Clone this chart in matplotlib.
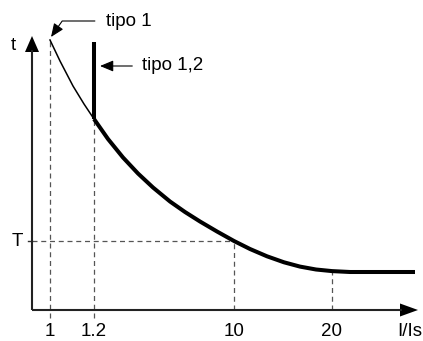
import matplotlib.pyplot as plt

# schematic trip curve, x in arbitrary axis units, t in arbitrary time units
curve_x = [18, 28, 41, 52, 62, 76, 91, 106, 121, 138, 153, 168, 185, 202,
           218, 235, 252, 268, 284, 300, 318, 383]
curve_t = [270, 249, 224, 206, 191, 171, 152.5, 136.5, 122.5, 108.5, 98,
           88.5, 78.5, 69, 61, 53.7, 47.7, 43.4, 40.5, 38.9, 38, 38]

tick_x = [18, 62, 202, 300]
tick_labels = ['1', '1.2', '10', '20']
T_level = 69
bar_top = 268          # top of the vertical "tipo 1,2" segment
x_end, t_end = 386, 274

plt.rcParams['font.family'] = ['Liberation Sans', 'DejaVu Sans']
fig = plt.figure(figsize=(4.23, 3.41), dpi=100)
ax = fig.add_axes([0, 0, 1, 1])
ax.set_xlim(-32, 391)
ax.set_ylim(-31, 310)
ax.axis('off')

dash = dict(color='#555555', lw=0.9, dashes=(4, 3))

# dashed guides
ax.plot([tick_x[0], tick_x[0]], [-8, curve_t[0]], **dash)
ax.plot([tick_x[1], tick_x[1]], [-8, curve_t[4]], **dash)
ax.plot([tick_x[2], tick_x[2]], [0, T_level], **dash)
ax.plot([tick_x[3], tick_x[3]], [0, curve_t[19]], **dash)
ax.plot([0, tick_x[2]], [T_level, T_level], **dash)
ax.plot([-4, 0], [T_level, T_level], color='#333333', lw=1)

# axes with arrow heads
ax.plot([0, 0], [0, t_end - 14], color='#222222', lw=1.5, solid_capstyle='butt')
ax.plot([0, x_end - 16], [0, 0], color='#222222', lw=1.5, solid_capstyle='butt')
ax.fill([-7, 7, 0], [t_end - 16, t_end - 16, t_end], color='black', lw=0)
ax.fill([x_end - 18, x_end - 18, x_end], [-6.5, 6.5, 0], color='black', lw=0)

# curve: thin part (tipo 1) then thick part
ax.plot(curve_x[:5], curve_t[:5], color='black', lw=1.1)
ax.plot(curve_x[4:], curve_t[4:], color='black', lw=2.9,
        solid_capstyle='butt', solid_joinstyle='round')
ax.plot([tick_x[1], tick_x[1]], [curve_t[4], bar_top], color='black', lw=2.9,
        solid_capstyle='butt')

fs = 13.5
for x, lab in zip(tick_x, tick_labels):
    ax.text(x, -22, lab, ha='center', va='center', fontsize=fs)
ax.text(378, -22, 'I/Is', ha='center', va='center', fontsize=fs)
ax.text(-19, 265, 't', ha='center', va='center', fontsize=fs)
ax.text(-15, T_level, 'T', ha='center', va='center', fontsize=fs)

# annotations
ax.annotate('tipo 1', xy=(curve_x[0] + 1, curve_t[0] + 3), xytext=(74, 289),
            fontsize=fs, va='center', ha='left',
            arrowprops=dict(arrowstyle='-|>,head_length=0.6,head_width=0.25',
                            color='black', lw=0.8, shrinkA=6, shrinkB=0,
                            connectionstyle='angle,angleA=0,angleB=55,rad=0'))
ax.annotate('tipo 1,2', xy=(tick_x[1] + 6, 244), xytext=(110, 244),
            fontsize=fs, va='center', ha='left',
            arrowprops=dict(arrowstyle='-|>,head_length=0.6,head_width=0.25',
                            color='black', lw=0.8, shrinkA=5, shrinkB=0))

fig.savefig('out.png', dpi=100)
